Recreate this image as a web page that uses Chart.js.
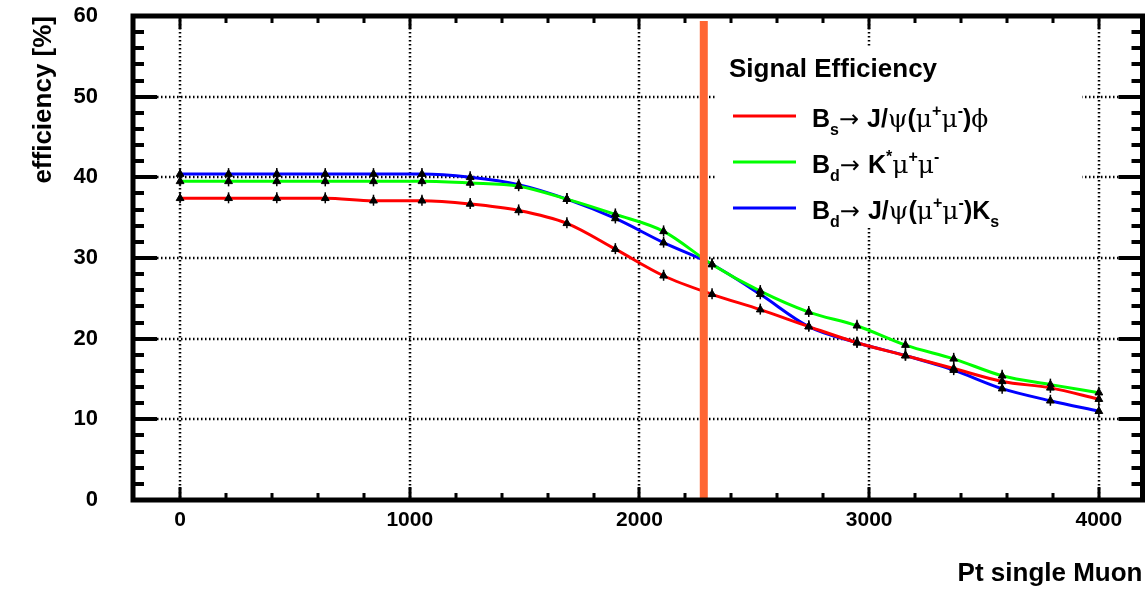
<!DOCTYPE html>
<html>
<head>
<meta charset="utf-8">
<script src="https://cdn.jsdelivr.net/npm/chart.js@4/dist/chart.umd.min.js"></script>
<style>
  html, body { margin: 0; padding: 0; background: #fff; }
  #wrap { width: 1148px; height: 592px; }
</style>
</head>
<body>
<div id="wrap"><canvas id="eff"></canvas></div>
<script>
// Pt points (x) and efficiency in % for each channel
const ptX = [0, 211, 421, 632, 842, 1053, 1263, 1474, 1684, 1895, 2105, 2316, 2526, 2737, 2947, 3158, 3368, 3579, 3789, 4000];
const bsJpsiPhi = [37.4, 37.4, 37.4, 37.4, 37.1, 37.1, 36.7, 35.9, 34.3, 31.1, 27.8, 25.5, 23.6, 21.5, 19.5, 17.9, 16.3, 14.7, 13.9, 12.5];
const bdKstarMuMu = [39.5, 39.5, 39.5, 39.5, 39.5, 39.5, 39.3, 38.9, 37.3, 35.4, 33.3, 29.2, 25.9, 23.3, 21.6, 19.2, 17.5, 15.4, 14.3, 13.3];
const bdJpsiKs = [40.4, 40.4, 40.4, 40.4, 40.4, 40.4, 40.0, 39.1, 37.3, 34.9, 31.9, 29.2, 25.5, 21.5, 19.5, 17.9, 16.1, 13.8, 12.3, 11.0];

const xTicks = [0, 1000, 2000, 3000, 4000];
const xMinorStep = 200;
const yMinorStep = 2;
const cutPt = 2280; // orange cut line

const FONT = "'Liberation Sans', Arial, sans-serif";

function pts(ys) {
  return ptX.map((x, i) => ({ x: x, y: ys[i] }));
}

function series(label, color, ys) {
  return {
    label,
    data: pts(ys),
    borderColor: color,
    backgroundColor: color,
    borderWidth: 3,
    tension: 0.4,
    cubicInterpolationMode: "monotone",
    pointStyle: "triangle",
    pointRadius: 4.5,
    pointBackgroundColor: "#000",
    pointBorderColor: "#000",
    pointBorderWidth: 1
  };
}

// draws a line of text pieces with sub/superscripts
function richText(ctx, x, y, parts) {
  let cx = x;
  parts.forEach(p => {
    let font = "bold 25px " + FONT;
    let dy = 0;
    if (p.sym) font = "25px 'DejaVu Serif', 'Liberation Serif', serif";
    if (p.arrow) font = "24px 'DejaVu Sans', sans-serif";
    if (p.sub) { font = "bold 16px " + FONT; dy = 8; }
    if (p.sup) { font = "bold 16px " + FONT; dy = -11; }
    ctx.font = font;
    ctx.fillText(p.t, cx, y + dy);
    cx += ctx.measureText(p.t).width + (p.gap || 0);
  });
}

const framePlugin = {
  id: "frame",
  beforeDatasetsDraw(chart) {
    const { ctx, chartArea: a, scales: { x, y } } = chart;
    ctx.save();
    // dotted grid
    ctx.strokeStyle = "#000";
    ctx.lineWidth = 2.5;
    ctx.setLineDash([1.5, 2.5]);
    xTicks.forEach(v => {
      const px = Math.round(x.getPixelForValue(v));
      ctx.beginPath();
      ctx.moveTo(px, a.top);
      ctx.lineTo(px, a.bottom);
      ctx.stroke();
    });
    y.ticks.forEach(t => {
      if (t.value <= y.min || t.value >= y.max) return;
      const py = Math.round(y.getPixelForValue(t.value));
      ctx.beginPath();
      ctx.moveTo(a.left, py);
      ctx.lineTo(a.right, py);
      ctx.stroke();
    });
    ctx.setLineDash([]);
    // legend box (white, covers grid)
    ctx.fillStyle = "#fff";
    ctx.fillRect(716, 46, 366, 182);
    ctx.fillStyle = "#000";
    ctx.textBaseline = "alphabetic";
    ctx.font = "bold 26px " + FONT;
    ctx.fillText("Signal Efficiency", 729, 77);
    const rows = [
      { c: "#ff0000", y: 116, parts: [{ t: "B" }, { t: "s" , sub: true }, { t: "\u2192", arrow: true, gap: 8 }, { t: "J/" }, { t: "\u03c8", sym: true }, { t: "(" }, { t: "\u03bc", sym: true }, { t: "+", sup: true }, { t: "\u03bc", sym: true }, { t: "-", sup: true }, { t: ")" }, { t: "\u03d5", sym: true }] },
      { c: "#00ff00", y: 162, parts: [{ t: "B" }, { t: "d", sub: true }, { t: "\u2192", arrow: true, gap: 8 }, { t: "K" }, { t: "*", sup: true }, { t: "\u03bc", sym: true }, { t: "+", sup: true }, { t: "\u03bc", sym: true }, { t: "-", sup: true }] },
      { c: "#0000ff", y: 208, parts: [{ t: "B" }, { t: "d", sub: true }, { t: "\u2192", arrow: true, gap: 8 }, { t: "J/" }, { t: "\u03c8", sym: true }, { t: "(" }, { t: "\u03bc", sym: true }, { t: "+", sup: true }, { t: "\u03bc", sym: true }, { t: "-", sup: true }, { t: ")" }, { t: "K" }, { t: "s", sub: true }] }
    ];
    rows.forEach(r => {
      ctx.strokeStyle = r.c;
      ctx.lineWidth = 3;
      ctx.beginPath();
      ctx.moveTo(733, r.y);
      ctx.lineTo(796, r.y);
      ctx.stroke();
      ctx.fillStyle = "#000";
      richText(ctx, 812, r.y + 11, r.parts);
    });
    ctx.restore();
  },
  afterDatasetsDraw(chart) {
    const { ctx, chartArea: a, scales: { x, y } } = chart;
    ctx.save();
    // small error bars on the markers
    ctx.strokeStyle = "#000";
    ctx.lineWidth = 1.5;
    chart.data.datasets.forEach((ds, i) => {
      chart.getDatasetMeta(i).data.forEach(pt => {
        ctx.beginPath();
        ctx.moveTo(pt.x, pt.y - 6);
        ctx.lineTo(pt.x, pt.y + 5);
        ctx.stroke();
      });
    });
    // cut line
    const cx = x.getPixelForValue(cutPt);
    ctx.fillStyle = "#ff6633";
    ctx.fillRect(cx - 4, a.top + 5, 8, a.bottom - a.top - 5);
    // frame
    ctx.strokeStyle = "#000";
    ctx.lineWidth = 5;
    ctx.strokeRect(a.left, a.top, a.right - a.left, a.bottom - a.top);
    // y ticks left and right
    ctx.lineWidth = 4;
    for (let v = y.min; v <= y.max; v += yMinorStep) {
      const py = Math.round(y.getPixelForValue(v));
      const len = v % 10 === 0 ? 24 : 11;
      ctx.beginPath();
      ctx.moveTo(a.left, py); ctx.lineTo(a.left + len, py);
      ctx.moveTo(a.right, py); ctx.lineTo(a.right - len, py);
      ctx.stroke();
    }
    // x ticks bottom and top
    ctx.lineWidth = 3;
    for (let v = 0; v <= x.max; v += xMinorStep) {
      const px = Math.round(x.getPixelForValue(v));
      const len = v % 1000 === 0 ? 13 : 7;
      ctx.beginPath();
      ctx.moveTo(px, a.bottom); ctx.lineTo(px, a.bottom - len);
      ctx.moveTo(px, a.top); ctx.lineTo(px, a.top + len);
      ctx.stroke();
    }
    ctx.restore();
  }
};

new Chart(document.getElementById("eff"), {
  type: "line",
  data: {
    datasets: [
      series("Bs -> J/psi(mu+mu-)phi", "#ff0000", bsJpsiPhi),
      series("Bd -> K* mu+mu-", "#00ff00", bdKstarMuMu),
      series("Bd -> J/psi(mu+mu-)Ks", "#0000ff", bdJpsiKs)
    ]
  },
  options: {
    responsive: true,
    maintainAspectRatio: false,
    animation: false,
    layout: { padding: { top: 16, right: 4, left: 0, bottom: 0 } },
    plugins: { legend: { display: false }, tooltip: { enabled: false } },
    scales: {
      x: {
        type: "linear",
        min: -205,
        max: 4190,
        afterBuildTicks: axis => { axis.ticks = xTicks.map(v => ({ value: v })); },
        afterFit: axis => { axis.height = 92; axis.paddingLeft = 0; axis.paddingRight = 0; },
        grid: { display: false, drawTicks: false },
        border: { display: false },
        ticks: { color: "#000", padding: 8, maxRotation: 0, callback: v => String(v), font: { family: FONT, size: 21, weight: "bold" } },
        title: { display: true, text: "Pt single Muon", align: "end", color: "#000", padding: 3, font: { family: FONT, size: 26, weight: "bold" } }
      },
      y: {
        min: 0,
        max: 60,
        ticks: { stepSize: 10, color: "#000", padding: 35, font: { family: FONT, size: 22, weight: "bold" } },
        afterFit: axis => { axis.width = 133; axis.paddingTop = 0; axis.paddingBottom = 0; },
        grid: { display: false, drawTicks: false },
        border: { display: false },
        title: { display: true, text: "efficiency [%]", align: "end", color: "#000", padding: 28, font: { family: FONT, size: 26, weight: "bold" } }
      }
    }
  },
  plugins: [framePlugin]
});
</script>
</body>
</html>
